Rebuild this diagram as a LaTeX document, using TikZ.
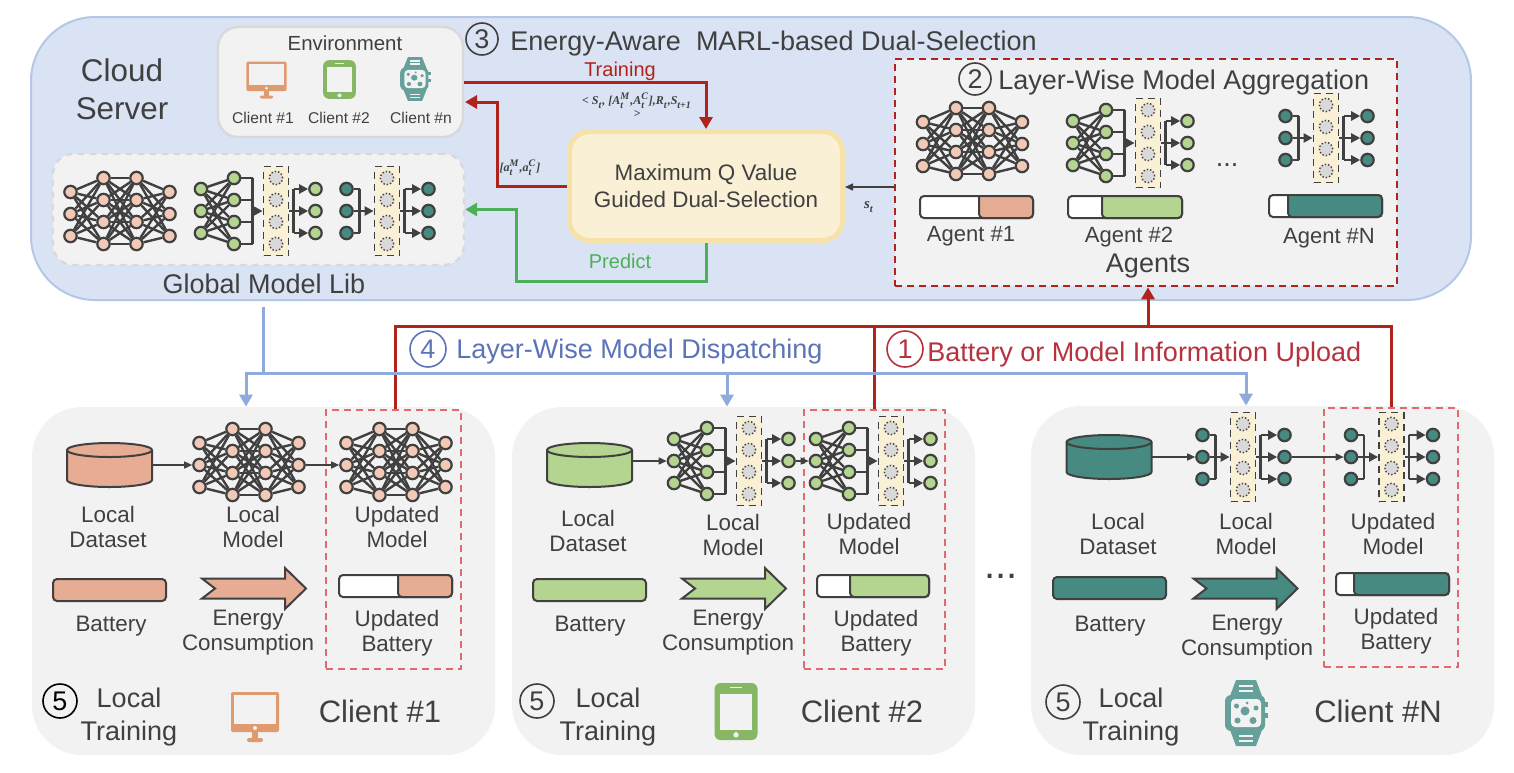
\documentclass[tikz,border=0pt]{standalone}
\usepackage{amsmath,amssymb}
\usepackage{fontspec}
\setmainfont{Liberation Sans}
\newfontfamily\symfont[BoldItalicFont={Liberation Serif Bold Italic}]{Liberation Serif}
\usetikzlibrary{arrows.meta}

\definecolor{inkgray}{HTML}{404040}
\definecolor{cloudfill}{HTML}{DAE3F3}
\definecolor{cloudline}{HTML}{B4C7E7}
\definecolor{panelfill}{HTML}{F2F2F2}
\definecolor{panelline}{HTML}{D9D9D9}
\definecolor{qfill}{HTML}{FAF0D6}
\definecolor{qline}{HTML}{F6E2A8}
\definecolor{upred}{HTML}{B0231A}
\definecolor{softred}{HTML}{E2696E}
\definecolor{predgreen}{HTML}{4DB058}
\definecolor{downblue}{HTML}{8FAADC}
\definecolor{downtext}{HTML}{5B74B8}
\definecolor{uptext}{HTML}{B5323E}
\definecolor{pinknode}{HTML}{F2C9B6}
\definecolor{salmon}{HTML}{E6AC94}
\definecolor{leaf}{HTML}{B3D590}
\definecolor{teal}{HTML}{468A82}
\definecolor{iconorange}{HTML}{E09A70}
\definecolor{icongreen}{HTML}{88B764}
\definecolor{iconteal}{HTML}{65A09B}

\tikzset{
  neuron/.style={circle,draw=inkgray,line width=1.1pt,minimum size=6.2pt,inner sep=0pt},
  hidden/.style={circle,draw=inkgray,densely dotted,line width=.7pt,fill=panelline,minimum size=6.6pt,inner sep=0pt},
  slab/.style={rectangle,draw=inkgray,dashed,dash pattern=on 3.5pt off 2.5pt,line width=.9pt,fill=qfill,minimum width=12.5pt,minimum height=44.5pt,inner sep=0pt},
  netedge/.style={draw=inkgray,line width=1.2pt},
  nettip/.style={netedge,-{Triangle[length=4.5pt,width=4.5pt]}},
  thintip/.style={draw=inkgray,line width=.75pt,-{Triangle[length=4pt,width=3.5pt]}},
  redtip/.style={draw=upred,line width=1.5pt,-{Triangle[length=6pt,width=6.5pt]}},
  greentip/.style={draw=predgreen,line width=1.5pt,-{Triangle[length=6pt,width=6.5pt]}},
  bluetip/.style={draw=downblue,line width=1.5pt,-{Triangle[length=6pt,width=6.5pt]}},
  txt/.style={text=inkgray,inner sep=0pt,align=center,font=\fontsize{11.2pt}{12.4pt}\selectfont},
  bigtxt/.style={txt,font=\fontsize{13.5pt}{16.5pt}\selectfont},
  nametxt/.style={txt,font=\fontsize{15.5pt}{18pt}\selectfont},
  agenttxt/.style={txt,font=\fontsize{11pt}{13pt}\selectfont},
  smalltxt/.style={txt,font=\fontsize{7.8pt}{9pt}\selectfont},
  mathtxt/.style={txt,font=\fontsize{6pt}{6.4pt}\selectfont\symfont\bfseries\itshape},
  numring/.style={circle,draw=inkgray,line width=.8pt,minimum size=16pt,inner sep=0pt,text=inkgray,font=\fontsize{13.5pt}{16pt}\selectfont},
  panel/.style={rectangle,fill=panelfill,rounded corners=25pt,inner sep=0pt},
  softbox/.style={rectangle,draw=softred,dashed,dash pattern=on 3.5pt off 2.5pt,line width=1pt,inner sep=0pt},
  barline/.style={draw=inkgray,line width=1pt,rounded corners=2pt},
}

% letter, subscript, superscript, all in the label's own font
\newcommand{\vsym}[3]{#1$_{\text{#2}}^{\text{#3}}$}

% name, x, y, fill
\newcommand{\fullnet}[4]{
  \begin{scope}[shift={(#2,#3)}]
    \foreach \r/\v in {1/-19,2/3,3/25} {
      \node[neuron,fill=#4] (#1a\r) at (-49.5,\v) {};
      \node[neuron,fill=#4] (#1d\r) at (49.5,\v) {};
    }
    \foreach \r/\v in {1/-33,2/-11,3/11,4/33} {
      \node[neuron,fill=#4] (#1b\r) at (-16.5,\v) {};
      \node[neuron,fill=#4] (#1c\r) at (16.5,\v) {};
    }
    \foreach \r in {1,2,3} \foreach \s in {1,2,3,4} {
      \draw[netedge] (#1a\r) -- (#1b\s);
      \draw[netedge] (#1c\s) -- (#1d\r);
    }
    \foreach \r in {1,2,3,4} \foreach \s in {1,2,3,4}
      \draw[netedge] (#1b\r) -- (#1c\s);
  \end{scope}
}
% name, fill, x of the output row
\newcommand{\slabpart}[3]{
  \node[slab] (#1col) at (0,0) {};
  \foreach \r/\v in {1/-33,2/-11,3/11,4/33}
    \node[hidden] (#1h\r) at (0,\v) {};
  \coordinate (#1obk) at (17.5,0);
  \foreach \r/\v in {1/-22,2/0,3/22}
    \node[neuron,fill=#2] (#1o\r) at (#3,\v) {};
  \draw[netedge] (#1col) -- (#1obk);
  \draw[netedge] (#1o1 -| #1obk) -- (#1o3 -| #1obk);
  \foreach \r in {1,2,3}
    \draw[nettip] (#1o\r -| #1obk) -- (#1o\r);
}
% name, x, y, fill
\newcommand{\wingnet}[4]{
  \begin{scope}[shift={(#2,#3)}]
    \foreach \r/\v in {1/-22,2/0,3/22}
      \node[neuron,fill=#4] (#1a\r) at (-75,\v) {};
    \foreach \r/\v in {1/-33,2/-11,3/11,4/33}
      \node[neuron,fill=#4] (#1b\r) at (-42,\v) {};
    \foreach \r in {1,2,3} \foreach \s in {1,2,3,4}
      \draw[netedge] (#1a\r) -- (#1b\s);
    \coordinate (#1bk) at (-23.5,0);
    \foreach \s in {1,2,3,4}
      \draw[netedge] (#1b\s) -- (#1b\s -| #1bk);
    \draw[netedge] (#1b1 -| #1bk) -- (#1b4 -| #1bk);
    \slabpart{#1}{#4}{39.5}
    \draw[nettip] (#1bk) -- (#1col);
  \end{scope}
}
% name, x, y, fill
\newcommand{\stemnet}[4]{
  \begin{scope}[shift={(#2,#3)}]
    \foreach \r/\v in {1/-22,2/0,3/22}
      \node[neuron,fill=#4] (#1a\r) at (-40.5,\v) {};
    \coordinate (#1bk) at (-27.5,0);
    \foreach \r in {1,2,3}
      \draw[netedge] (#1a\r) -- (#1a\r -| #1bk);
    \draw[netedge] (#1a1 -| #1bk) -- (#1a3 -| #1bk);
    \slabpart{#1}{#4}{41.5}
    \draw[nettip] (#1bk) -- (#1col);
  \end{scope}
}
% name, x, y, fill
\newcommand{\datacan}[4]{
  \begin{scope}[shift={(#2,#3)}]
    \draw[draw=inkgray,line width=1pt,fill=#4] (-42.5,-15) -- (-42.5,15)
      arc[start angle=180,end angle=360,x radius=21.25pt,y radius=3.5pt] -- (42.5,-15)
      arc[start angle=0,end angle=180,x radius=21.25pt,y radius=3.5pt] -- cycle;
    \draw[draw=inkgray,line width=1pt] (-42.5,-15)
      arc[start angle=180,end angle=360,x radius=21.25pt,y radius=3.5pt];
    \coordinate (#1) at (42.5,0);
  \end{scope}
}
% left, top, right, bottom, split, fill
\newcommand{\chargebar}[6]{
  \draw[barline,fill=white] (#1,#2) rectangle (#3,#4);
  \draw[barline,fill=#6] [sharp corners] (#5,#4) -- (#5,#2) [rounded corners=2pt] -- (#3,#2) -- (#3,#4) -- cycle;
}
% x, y, fill
\newcommand{\chevron}[3]{
  \draw[draw=inkgray,line width=1pt,fill=#3,shift={(#1,#2)}] (-52,-10) -- (31,-10) -- (31,-20.5) -- (52,0) -- (31,20.5) -- (31,10) -- (-52,10) -- (-39,0) -- cycle;
}
% x, y, scale
\newcommand{\monitoricon}[3]{
  \begin{scope}[shift={(#1,#2)},#3]
    \fill[iconorange,rounded corners=1pt] (-24,-25) rectangle (24,15);
    \fill[panelfill] (-21,-22) rectangle (21,7);
    \fill[panelfill] (0,11) circle (2);
    \fill[iconorange] (-3,15) rectangle (3,22);
    \fill[iconorange,rounded corners=1pt] (-8,21) rectangle (8,25);
  \end{scope}
}
\newcommand{\tableticon}[3]{
  \begin{scope}[shift={(#1,#2)},#3]
    \fill[icongreen,rounded corners=3pt] (-21.5,-28.5) rectangle (21.5,28.5);
    \fill[panelfill] (-16,-18) rectangle (16,18);
    \fill[panelfill] (-6,-24.7) rectangle (6,-23.2);
    \fill[panelfill] (0,23.3) circle (2.7);
  \end{scope}
}
\newcommand{\watchicon}[3]{
  \begin{scope}[shift={(#1,#2)},#3]
    \fill[iconteal] (-16,-17) -- (-10,-33) -- (10,-33) -- (16,-17) -- (16,17) -- (10,33) -- (-10,33) -- (-16,17) -- cycle;
    \fill[iconteal,rounded corners=3pt] (-21,-18) rectangle (19,18);
    \fill[iconteal] (19,-11) rectangle (22,-6);
    \fill[iconteal] (19,0) rectangle (22,5);
    \fill[panelfill,rounded corners=2pt] (-15,-14) rectangle (15,14);
    \fill[panelfill] (-7,-28.5) rectangle (7,-26.5);
    \fill[panelfill] (-7,-23.5) rectangle (7,-21.5);
    \fill[panelfill] (-7,22) rectangle (7,24);
    \fill[panelfill] (-7,27) rectangle (7,29);
    \fill[iconteal] (-1,-2) circle (4.5);
    \fill[iconteal] (-9.5,-7) circle (2.5);
    \fill[iconteal] (1,-10) circle (1.5);
    \fill[iconteal] (10,-5) circle (2.5);
    \fill[iconteal] (-8.5,7.5) circle (3);
    \fill[iconteal] (7,7.5) circle (3.5);
  \end{scope}
}

\begin{document}
\begin{tikzpicture}[x=.5pt,y=-.5pt]
  \useasboundingbox (0,0) rectangle (1514,772);

  % cloud part
  \node[rectangle,draw=cloudline,line width=1pt,fill=cloudfill,rounded corners=32pt,minimum width=720pt,minimum height=141.5pt] (cloud) at (751,158.5) {};
  \node[nametxt,font=\fontsize{15.7pt}{19pt}\selectfont] (cloudname) at (122,89) {Cloud\\Server};
  \node[rectangle,draw=panelline,line width=1.2pt,fill=panelfill,rounded corners=10pt,minimum width=122.5pt,minimum height=55pt] (env) at (340.5,82) {};
  \node[txt,font=\fontsize{10.2pt}{12pt}\selectfont] (envname) at (345,43) {Environment};
  \monitoricon{266.5}{80}{xscale=.84,yscale=.74}
  \tableticon{339.5}{79.5}{xscale=.76,yscale=.68}
  \watchicon{415}{79}{xscale=.71,yscale=.66}
  \node[smalltxt] (envc1) at (263,118) {Client \#1};
  \node[smalltxt] (envc2) at (339,118) {Client \#2};
  \node[smalltxt] (envcn) at (421,118) {Client \#n};

  \node[rectangle,draw=panelline,dashed,line width=1.2pt,fill=panelfill,rounded corners=10pt,minimum width=205.5pt,minimum height=55.5pt] (lib) at (258.5,209.5) {};
  \fullnet{libf}{120}{211}{pinknode}
  \wingnet{libw}{276}{211}{leaf}
  \stemnet{libs}{387}{211}{teal}
  \node[bigtxt] (libname) at (264,284) {Global Model Lib};

  \node[numring] (ringc) at (482,39) {3};
  \node[bigtxt,anchor=west] (ringctxt) at (510,44) {Energy-Aware\hspace{.28em} MARL-based Dual-Selection};

  \node[rectangle,draw=qline,line width=2.5pt,fill=qfill,rounded corners=10pt,minimum width=136.5pt,minimum height=54.5pt,txt,font=\fontsize{11.2pt}{13.5pt}\selectfont] (qbox) at (706,186) {Maximum Q Value\\Guided Dual-Selection};
  \coordinate (envin) at (465,102);
  \coordinate (bendup) at (497.5,102);
  \coordinate (predb) at (516,281);
  \coordinate (predt) at (516,209.5);
  \draw[redtip] (env.east) -| (qbox.north);
  \draw[redtip] (qbox.west) -| (bendup) -- (envin);
  \draw[greentip] (qbox.south) |- (predb) -- (predt) -- (lib.east);
  \node[txt,text=upred,font=\fontsize{10pt}{12pt}\selectfont] (trainlbl) at (620,71) {Training};
  \node[txt,text=predgreen,font=\fontsize{10pt}{12pt}\selectfont] (predlbl) at (620,261) {Predict};
  \node[mathtxt] (tuple) at (637,105) {< \vsym{S}{t}{}, [\vsym{A}{t}{M},\vsym{A}{t}{C}],\vsym{R}{t}{},\vsym{S}{t+1}{}\\>};
  \node[mathtxt] (action) at (520,168) {[\vsym{a}{t}{M},\vsym{a}{t}{C}]};
  \node[mathtxt,font=\fontsize{7.5pt}{8pt}\selectfont\symfont\bfseries\itshape] (state) at (869,207) {\vsym{s}{t}{}};

  % agents
  \node[rectangle,draw=upred,dashed,dash pattern=on 3.5pt off 2.5pt,line width=1.3pt,fill=panelfill,minimum width=251pt,minimum height=113.5pt] (agents) at (1146,172.5) {};
  \coordinate (stout) at (895,187);
  \draw[thintip] (stout) -- (qbox.east |- stout);
  \node[numring] (ringb) at (975,79) {2};
  \node[bigtxt,anchor=west] (ringbtxt) at (998,83) {Layer-Wise Model Aggregation};
  \fullnet{agf}{972.5}{141}{pinknode}
  \wingnet{agw}{1148}{143}{leaf}
  \stemnet{ags}{1326}{138}{teal}
  \node[bigtxt,anchor=base] (agdots) at (1227,166) {...};
  \chargebar{920}{196}{1033}{218}{979}{salmon}
  \chargebar{1068}{196}{1182}{218}{1102}{leaf}
  \chargebar{1269}{195}{1382}{217}{1288}{teal}
  \node[agenttxt] (ag1) at (971,236) {Agent \#1};
  \node[agenttxt] (ag2) at (1129,237) {Agent \#2};
  \node[agenttxt] (agn) at (1329,238) {Agent \#N};
  \node[bigtxt] (agname) at (1148,266) {Agents};

  % clients
  \node[panel,minimum width=231.5pt,minimum height=174pt] (c1) at (263.5,581) {};
  \node[panel,minimum width=231.5pt,minimum height=174pt] (c2) at (743.5,581) {};
  \node[panel,minimum width=231.5pt,minimum height=174.5pt] (cn) at (1262.5,580.5) {};

  \node[softbox,minimum width=67.5pt,minimum height=129.5pt] (c1box) at (393.5,539.5) {};
  \datacan{c1data}{109.5}{465}{salmon}
  \fullnet{c1loc}{249}{462}{pinknode}
  \fullnet{c1upd}{396}{462}{pinknode}
  \draw[thintip] (c1loca2 -| c1data) -- (c1loca2);
  \draw[thintip] (c1locd2) -- (c1upda2);
  \node[txt] (c1datatxt) at (108,527) {Local\\Dataset};
  \node[txt] (c1loctxt) at (253,527) {Local\\Model};
  \node[txt] (c1updtxt) at (397,527) {Updated\\Model};
  \draw[barline,fill=salmon] (53,579) rectangle (166,601);
  \node[txt] (c1bat) at (111,626) {Battery};
  \chevron{254}{588.5}{salmon}
  \node[txt] (c1energy) at (248,633) {Energy\\Consumption};
  \chargebar{339}{575}{452}{597}{398}{salmon}
  \node[txt] (c1updbat) at (397,633) {Updated\\Battery};
  \node[numring,draw=black,text=black,minimum size=17pt] (c1ring) at (60,701) {5};
  \node[bigtxt] (c1train) at (129,717) {Local\\Training};
  \monitoricon{255}{717}{}
  \node[nametxt] (c1name) at (380,711) {Client \#1};

  \node[softbox,minimum width=70.5pt,minimum height=129.5pt] (c2box) at (874.5,539.5) {};
  \datacan{c2data}{589.5}{465}{leaf}
  \wingnet{c2loc}{749}{461}{leaf}
  \wingnet{c2upd}{891}{461}{leaf}
  \draw[thintip] (c2loca2 -| c2data) -- (c2loca2);
  \draw[thintip] (c2loco2) -- (c2upda2);
  \node[txt] (c2datatxt) at (588,531) {Local\\Dataset};
  \node[txt] (c2loctxt) at (733,535) {Local\\Model};
  \node[txt] (c2updtxt) at (869,534) {Updated\\Model};
  \draw[barline,fill=leaf] (533,579) rectangle (646,601);
  \node[txt] (c2bat) at (590,626) {Battery};
  \chevron{734}{588.5}{leaf}
  \node[txt] (c2energy) at (728,633) {Energy\\Consumption};
  \chargebar{817}{575}{929}{597}{850}{leaf}
  \node[txt] (c2updbat) at (876,633) {Updated\\Battery};
  \node[numring,minimum size=17pt] (c2ring) at (537,701) {5};
  \node[bigtxt] (c2train) at (608,717) {Local\\Training};
  \tableticon{736}{711.5}{}
  \node[nametxt] (c2name) at (862,711) {Client \#2};

  \node[bigtxt,font=\fontsize{20pt}{24pt}\selectfont,anchor=base] (clientdots) at (1001,578) {...};

  \node[softbox,minimum width=67pt,minimum height=129.5pt] (cnbox) at (1391,537.5) {};
  \datacan{cndata}{1109}{457}{teal}
  \stemnet{cnloc}{1243}{457}{teal}
  \stemnet{cnupd}{1391.5}{457}{teal}
  \draw[thintip] (cndata) -- (cnloca2);
  \draw[thintip] (cnloco2) -- (cnupda2);
  \node[txt] (cndatatxt) at (1118,534) {Local\\Dataset};
  \node[txt] (cnloctxt) at (1246,534) {Local\\Model};
  \node[txt] (cnupdtxt) at (1393,534) {Updated\\Model};
  \draw[barline,fill=teal] (1053,577) rectangle (1166,599);
  \node[txt] (cnbat) at (1110,626) {Battery};
  \chevron{1245.5}{588.5}{teal}
  \node[txt] (cnenergy) at (1247,638) {Energy\\Consumption};
  \chargebar{1336}{573}{1449}{595}{1354}{teal}
  \node[txt] (cnupdbat) at (1396,631) {Updated\\Battery};
  \node[numring,minimum size=17pt] (cnring) at (1063,702) {5};
  \node[bigtxt] (cntrain) at (1131,717) {Local\\Training};
  \watchicon{1246}{713}{}
  \node[nametxt] (cnname) at (1378,711) {Client \#N};

  % upload and dispatch
  \coordinate (upjoin) at (1148,326);
  \coordinate (upleft) at (395,326);
  \coordinate (upright) at (1391,326);
  \coordinate (upmid) at (874.5,326);
  \draw[upred,line width=1.5pt] (c1box.north -| upleft) -- (upleft) -- (upright) -- (cnbox.north -| upright);
  \draw[upred,line width=1.5pt] (c2box.north -| upmid) -- (upmid);
  \draw[redtip] (upjoin) -- (agents.south -| upjoin);
  \node[numring,draw=uptext,text=uptext,minimum size=18pt] (ringa) at (905,349) {1};
  \node[bigtxt,text=uptext,anchor=west] (ringatxt) at (927,355) {Battery or Model Information Upload};
  \node[numring,draw=downtext,text=downtext,minimum size=18pt] (ringd) at (428,349) {4};
  \node[bigtxt,text=downtext,anchor=west] (ringdtxt) at (456,352) {Layer-Wise Model Dispatching};
  \coordinate (downtop) at (263,307);
  \coordinate (downjoin) at (263,373);
  \coordinate (downa) at (246,373);
  \coordinate (downb) at (727,373);
  \coordinate (downc) at (1246,373);
  \draw[downblue,line width=1.5pt] (downtop) -- (downjoin);
  \draw[bluetip] (downjoin) -- (downa) -- (c1.north -| downa);
  \draw[bluetip] (downa) -- (downb) -- (c2.north -| downb);
  \draw[bluetip] (downb) -- (downc) -- (cn.north -| downc);
\end{tikzpicture}
\end{document}
